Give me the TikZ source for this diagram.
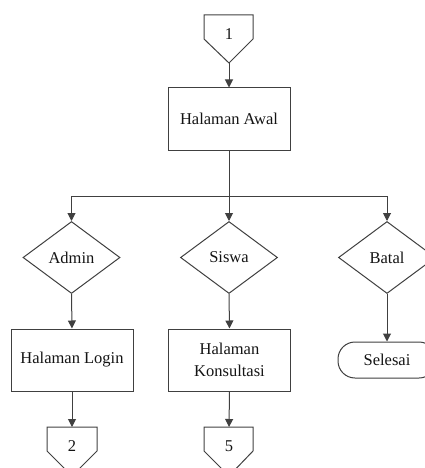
\documentclass[tikz,border=0pt]{standalone}
\usepackage{fontspec}
\setmainfont{Liberation Serif}
\usetikzlibrary{shapes.geometric,arrows.meta}
\definecolor{ln}{HTML}{404040}
\definecolor{tx}{HTML}{141414}
\tikzset{
  every node/.style={font=\fontsize{16.5}{18.5}\selectfont, text=tx},
  line/.style={draw=ln, line width=1pt},
  arr/.style={line, -{Triangle[length=8pt,width=8pt]}},
  box/.style={line, rectangle, fill=white, minimum width=122pt, minimum height=62pt, inner sep=0pt, align=center},
  dec/.style={line, diamond, fill=white, minimum width=97pt, minimum height=72pt, inner sep=0pt},
  term/.style={line, rectangle, rounded corners=17pt, fill=white, minimum width=98pt, minimum height=36pt, inner sep=0pt},
  offtext/.style={inner sep=0pt}
}
\begin{document}
\begin{tikzpicture}[x=1pt,y=-1pt]
\useasboundingbox (0,0) rectangle (425,468);
% off-page connector 1
\node[offtext] (c1) at (229,34) {1};
\draw[line] (204,15) -- (253,15) -- (253,39) -- (229,63) -- (204,39) -- cycle;
\coordinate (c1b) at (229,63);
% main boxes
\node[box] (awal) at (229,119) {Halaman Awal};
\node[dec] (admin) at (71.5,257.5) {Admin};
\node[dec] (siswa) at (229,257.5) {Siswa};
\node[dec] (batal) at (387,257.5) {Batal};
\node[box] (login) at (72,360) {Halaman Login};
\node[box] (kons) at (229.5,360) {Halaman\\[4pt]Konsultasi};
\node[term] (selesai) at (387,360) {Selesai};
% off-page connectors 2 and 5
\node[offtext] (c2) at (72,446) {2};
\draw[line] (47,427) -- (97,427) -- (97,451) -- (72,476) -- (47,451) -- cycle;
\coordinate (c2t) at (72,427);
\node[offtext] (c5) at (229,446) {5};
\draw[line] (204,427) -- (253,427) -- (253,451) -- (229,476) -- (204,451) -- cycle;
\coordinate (c5t) at (229,427);
% connectors
\draw[arr] (c1b) -- (awal.north);
\coordinate (j) at (229,196);
\draw[arr] (awal.south) -- (siswa.north);
\draw[arr] (j) -| (admin.north);
\draw[arr] (j) -| (batal.north);
\draw[arr] (admin.south) -- (login.north);
\draw[arr] (siswa.south) -- (kons.north);
\draw[arr] (batal.south) -- (selesai.north);
\draw[arr] (login.south) -- (c2t);
\draw[arr] (kons.south) -- (c5t);
\end{tikzpicture}
\end{document}
